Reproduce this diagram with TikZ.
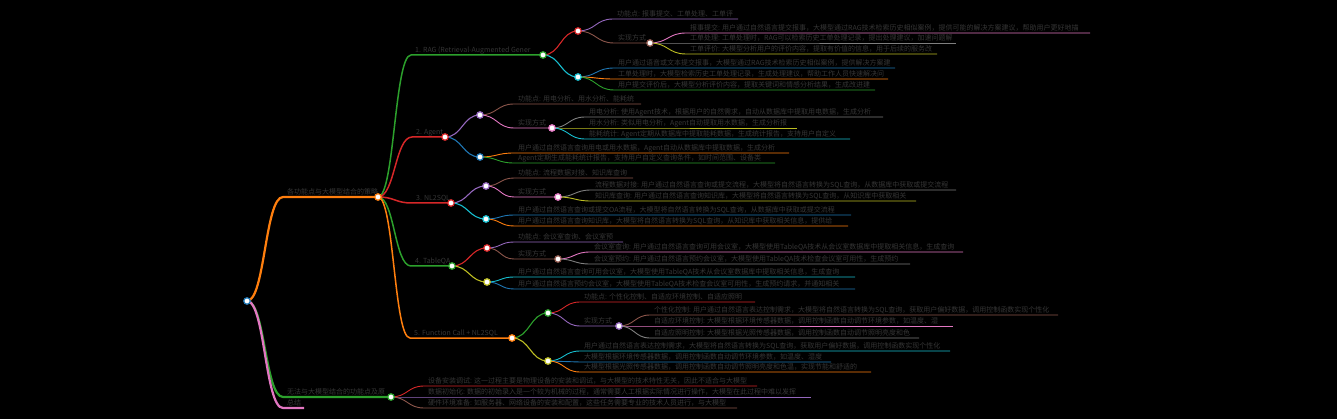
\documentclass[tikz,border=0pt]{standalone}
\usepackage{fontspec}
\setmainfont{Noto Sans CJK SC}
\usepackage{tikz}
\usetikzlibrary{calc,backgrounds}
\definecolor{mmblue}{HTML}{1F77B4}
\definecolor{mmorange}{HTML}{FF7F0E}
\definecolor{mmgreen}{HTML}{2CA02C}
\definecolor{mmred}{HTML}{D62728}
\definecolor{mmpurple}{HTML}{9467BD}
\definecolor{mmbrown}{HTML}{8C564B}
\definecolor{mmpink}{HTML}{E377C2}
\definecolor{mmgray}{HTML}{7F7F7F}
\definecolor{mmolive}{HTML}{BCBD22}
\definecolor{mmcyan}{HTML}{17BECF}
\definecolor{txtgray}{HTML}{363636}
\tikzset{%
  link/.style={to path={let \p1=(\tikztostart), \p2=(\tikztotarget) in
    .. controls ({0.5*\x1+0.5*\x2},\y1) and ({0.5*\x1+0.5*\x2},\y2) .. (\tikztotarget)}},
  mmdot/.style={circle,fill=white,line width=1.2pt,minimum size=6.5pt,inner sep=0pt}%
}

\begin{document}
\begin{tikzpicture}[
    x=1pt, y=-1pt,
    txt/.style={
        anchor=base west,
        inner sep=0pt,
        xshift=4pt,
        yshift=2.8pt,
        font=\fontsize{7}{8}\selectfont,
        text=txtgray
    },
    w1/.style={line width=2.2pt},
    w2/.style={line width=1.5pt},
    w3/.style={line width=1.1pt},
    w4/.style={line width=0.9pt}
]
\begin{scope}[on background layer]
  \fill[black] (0,0) rectangle (1337,419);
\end{scope}
\useasboundingbox (0,0) rectangle (1337,419);

% Branch texts (start of each underline)
\coordinate (strat-s) at (283,197);
\coordinate (nocomb-s) at (283,397);
\coordinate (summ-s) at (283,408);
\coordinate (summ-e) at (304,408);
\node[txt] (strat-t) at (strat-s) {各功能点与大模型结合的策略};
\node[txt] (nocomb-t) at (nocomb-s) {无法与大模型结合的功能点及原};
\node[txt] (summ-t) at (summ-s) {总结};

\coordinate (rag-s) at (411,55);
\coordinate (agent-s) at (412,137);
\coordinate (nlsql-s) at (412,203);
\coordinate (tqa-s) at (411,266);
\coordinate (fc-s) at (410,338);
\node[txt] (rag-t) at (rag-s) {1. RAG (Retrieval-Augmented Gener};
\node[txt] (agent-t) at (agent-s) {2. Agent};
\node[txt] (nlsql-t) at (nlsql-s) {3. NL2SQL};
\node[txt] (tqa-t) at (tqa-s) {4. TableQA};
\node[txt] (fc-t) at (fc-s) {5. Function Call + NL2SQL};

% "实现方式" texts
\coordinate (ragImpl-s) at (614,43);
\coordinate (agImpl-s) at (514,128);
\coordinate (nlImpl-s) at (514,197);
\coordinate (tqImpl-s) at (514,259);
\coordinate (fcImpl-s) at (580,326);
\foreach \n in {ragImpl,agImpl,nlImpl,tqImpl,fcImpl}
  \node[txt] (\n-t) at (\n-s) {实现方式};

% Circles
\node[mmdot,draw=mmblue] (root) at (247,301) {};
\node[mmdot,draw=mmorange] (strat) at (378,197) {};
\node[mmdot,draw=mmgreen] (nocomb) at (391,397) {};
\node[mmdot,draw=mmgreen] (rag) at (543,55) {};
\node[mmdot,draw=mmred] (agent) at (445,137) {};
\node[mmdot,draw=mmred] (nlsql) at (451,203) {};
\node[mmdot,draw=mmgreen] (tqa) at (452,266) {};
\node[mmdot,draw=mmorange] (fc) at (512,338) {};
\node[mmdot,draw=mmred] (ragA) at (578,31) {};
\node[mmdot,draw=mmcyan] (ragB) at (578,77) {};
\node[mmdot,draw=mmbrown] (ragImpl) at (650,43) {};
\node[mmdot,draw=mmpurple] (agA) at (480,115) {};
\node[mmdot,draw=mmblue] (agB) at (480,157) {};
\node[mmdot,draw=mmpink] (agImpl) at (552,128) {};
\node[mmdot,draw=mmpurple] (nlA) at (486,186) {};
\node[mmdot,draw=mmcyan] (nlB) at (486,219) {};
\node[mmdot,draw=mmpink] (nlImpl) at (558,197) {};
\node[mmdot,draw=mmred] (tqA) at (487,248) {};
\node[mmdot,draw=mmolive] (tqB) at (487,282) {};
\node[mmdot,draw=mmbrown] (tqImpl) at (558,259) {};
\node[mmdot,draw=mmgreen] (fcA) at (548,313) {};
\node[mmdot,draw=mmolive] (fcB) at (548,361) {};
\node[mmdot,draw=mmpurple] (fcImpl) at (619,326) {};

% Branch connectors
\begin{scope}[on background layer]
  \draw[w1,mmorange] (root.center) to[link] (strat-s) -- (strat.center);
  \draw[w1,mmgreen] (root.center) to[link] (nocomb-s) -- (nocomb.center);
  \draw[w1,mmpink] (root.center) to[link] (summ-s) -- (summ-e);
  \draw[w2,mmgreen] (strat.center) to[link] (rag-s) -- (rag.center);
  \draw[w2,mmred] (strat.center) to[link] (agent-s) -- (agent.center);
  \draw[w2,mmred] (strat.center) to[link] (nlsql-s) -- (nlsql.center);
  \draw[w2,mmgreen] (strat.center) to[link] (tqa-s) -- (tqa.center);
  \draw[w2,mmorange] (strat.center) to[link] (fc-s) -- (fc.center);
  \draw[w3,mmred] (rag.center) to[link] (ragA.center);
  \draw[w3,mmcyan] (rag.center) to[link] (ragB.center);
  \draw[w3,mmpurple] (agent.center) to[link] (agA.center);
  \draw[w3,mmblue] (agent.center) to[link] (agB.center);
  \draw[w3,mmpurple] (nlsql.center) to[link] (nlA.center);
  \draw[w3,mmcyan] (nlsql.center) to[link] (nlB.center);
  \draw[w3,mmred] (tqa.center) to[link] (tqA.center);
  \draw[w3,mmolive] (tqa.center) to[link] (tqB.center);
  \draw[w3,mmgreen] (fc.center) to[link] (fcA.center);
  \draw[w3,mmolive] (fc.center) to[link] (fcB.center);
  \draw[w4,mmbrown] (ragA.center) to[link] (ragImpl-s) -- (ragImpl.center);
  \draw[w4,mmpink] (agA.center) to[link] (agImpl-s) -- (agImpl.center);
  \draw[w4,mmpink] (nlA.center) to[link] (nlImpl-s) -- (nlImpl.center);
  \draw[w4,mmbrown] (tqA.center) to[link] (tqImpl-s) -- (tqImpl.center);
  \draw[w4,mmpurple] (fcA.center) to[link] (fcImpl-s) -- (fcImpl.center);
\end{scope}

% Leaves: parent / start x / y / end x / colour / text
\foreach \p/\xs/\y/\xe/\col/\lbl [count=\i] in {
    ragA/613/19/738/mmpurple/{功能点: 报事提交、工单处理、工单评},
    ragImpl/686/33/1090/mmpink/{报事提交: 用户通过自然语言提交报事，大模型通过RAG技术检索历史相似案例，提供可能的解决方案建议，帮助用户更好地描},
    ragImpl/686/43/956/mmgray/{工单处理: 工单处理时，RAG可以检索历史工单处理记录，提出处理建议，加速问题解},
    ragImpl/686/54/937/mmolive/{工单评价: 大模型分析用户的评价内容，提取有价值的信息，用于后续的服务改},
    ragB/614/68/895/mmblue/{用户通过语音或文本提交报事，大模型通过RAG技术检索历史相似案例，提供解决方案建},
    ragB/614/79/888/mmorange/{工单处理时，大模型检索历史工单处理记录，生成处理建议，帮助工作人员快速解决问},
    ragB/614/90/875/mmgreen/{用户提交评价后，大模型分析评价内容，提取关键词和情感分析结果，生成改进建},
    agA/514/104/641/mmbrown/{功能点: 用电分析、用水分析、能耗统},
    agImpl/585/117/883/mmgray/{用电分析: 使用Agent技术，根据用户的自然需求，自动从数据库中提取用电数据，生成分析},
    agImpl/585/128/797/mmolive/{用水分析: 类似用电分析，Agent自动提取用水数据，生成分析报},
    agImpl/585/139/850/mmcyan/{能耗统计: Agent定期从数据库中提取能耗数据，生成统计报告，支持用户自定义},
    agB/514/153/789/mmorange/{用户通过自然语言查询用电或用水数据，Agent自动从数据库中提取数据，生成分析},
    agB/514/163/775/mmgreen/{Agent定期生成能耗统计报告，支持用户自定义查询条件，如时间范围、设备类},
    nlA/514/178/633/mmbrown/{功能点: 流程数据对接、知识库查询},
    nlImpl/591/190/956/mmgray/{流程数据对接: 用户通过自然语言查询或提交流程，大模型将自然语言转换为SQL查询，从数据库中获取或提交流程},
    nlImpl/591/201/916/mmolive/{知识库查询: 用户通过自然语言查询知识库，大模型将自然语言转换为SQL查询，从知识库中获取相关},
    nlB/514/215/851/mmblue/{用户通过自然语言查询或提交OA流程，大模型将自然语言转换为SQL查询，从数据库中获取或提交流程},
    nlB/514/226/848/mmorange/{用户通过自然语言查询知识库，大模型将自然语言转换为SQL查询，从知识库中获取相关信息，提供给},
    tqA/514/242/623/mmpurple/{功能点: 会议室查询、会议室预},
    tqImpl/590/252/963/mmpink/{会议室查询: 用户通过自然语言查询可用会议室，大模型使用TableQA技术从会议室数据库中提取相关信息，生成查询},
    tqImpl/590/264/910/mmgray/{会议室预约: 用户通过自然语言预约会议室，大模型使用TableQA技术检查会议室可用性，生成预约},
    tqB/514/277/855/mmcyan/{用户通过自然语言查询可用会议室，大模型使用TableQA技术从会议室数据库中提取相关信息，生成查询},
    tqB/514/289/855/mmblue/{用户通过自然语言预约会议室，大模型使用TableQA技术检查会议室可用性，生成预约请求，并通知相关},
    fcA/580/302/755/mmred/{功能点: 个性化控制、自适应环境控制、自适应照明},
    fcImpl/650/315/1058/mmbrown/{个性化控制: 用户通过自然语言表达控制需求，大模型将自然语言转换为SQL查询，获取用户偏好数据，调用控制函数实现个性化},
    fcImpl/650/326/953/mmpink/{自适应环境控制: 大模型根据环境传感器数据，调用控制函数自动调节环境参数，如温度、湿},
    fcImpl/650/338/919/mmgray/{自适应照明控制: 大模型根据光照传感器数据，调用控制函数自动调节照明亮度和色},
    fcB/580/351/950/mmcyan/{用户通过自然语言表达控制需求，大模型将自然语言转换为SQL查询，获取用户偏好数据，调用控制函数实现个性化},
    fcB/580/362/831/mmblue/{大模型根据环境传感器数据，调用控制函数自动调节环境参数，如温度、湿度},
    fcB/580/372/871/mmorange/{大模型根据光照传感器数据，调用控制函数自动调节照明亮度和色温，实现节能和舒适的},
    nocomb/424/386/757/mmred/{设备安装调试: 这一过程主要是物理设备的安装和调试，与大模型的技术特性无关，因此不适合与大模型},
    nocomb/424/397/811/mmpurple/{数据初始化: 数据的初始录入是一个较为机械的过程，通常需要人工根据实际情况进行操作，大模型在此过程中难以发挥},
    nocomb/424/408/737/mmbrown/{硬件环境准备: 如服务器、网络设备的安装和配置，这些任务需要专业的技术人员进行，与大模型}}{
  \coordinate (leaf-s\i) at (\xs,\y);
  \coordinate (leaf-e\i) at (\xe,\y);
  \node[txt] (leaf\i) at (leaf-s\i) {\lbl};
  \begin{scope}[on background layer]
    \draw[w4,\col] (\p.center) to[link] (leaf-s\i) -- (leaf-e\i);
  \end{scope}
}

\end{tikzpicture}
\end{document}
